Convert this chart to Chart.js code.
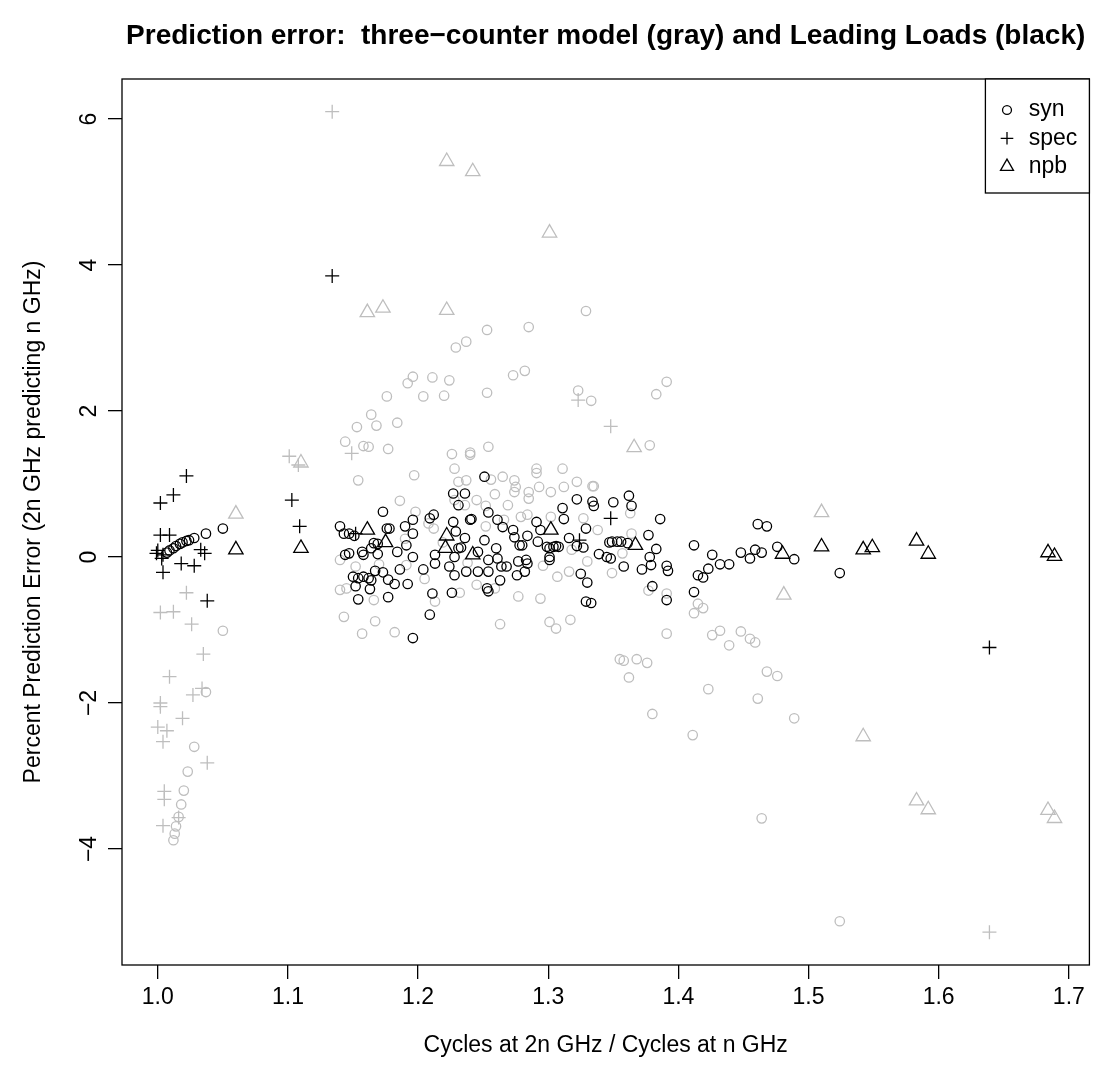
<!DOCTYPE html>
<html><head><meta charset="utf-8">
<script src="https://cdn.jsdelivr.net/npm/chart.js@4.4.1/dist/chart.umd.min.js"></script>
<style>html,body{margin:0;padding:0;background:#fff}#wrap{width:1099px;height:1086px}</style>
</head><body><div id="wrap"><canvas id="c" width="1099" height="1086"></canvas></div>
<script>
const titleText = 'Prediction error:  three\u2212counter model (gray) and Leading Loads (black)';
const xTitle = 'Cycles at 2n GHz / Cycles at n GHz';
const yTitle = 'Percent Prediction Error (2n GHz predicting n GHz)';
const xTicks = [1.0, 1.1, 1.2, 1.3, 1.4, 1.5, 1.6, 1.7];
const yTicks = [-4, -2, 0, 2, 4, 6];
const legendLabels = ['syn', 'spec', 'npb'];

// Leading Loads (black)
const blackSyn = [
[1.007,0.06],[1.009,0.09],[1.012,0.12],[1.014,0.15],[1.017,0.18],[1.019,0.20],[1.022,0.22],[1.024,0.23],[1.028,0.26],[1.037,0.32],[1.050,0.39],
[1.251,1.10],[1.227,0.87],[1.236,0.87],[1.231,0.71],[1.240,0.51],[1.241,0.52],[1.254,0.61],[1.261,0.51],[1.265,0.41],[1.227,0.48],[1.209,0.53],[1.212,0.58],[1.196,0.51],[1.173,0.62],[1.190,0.42],[1.196,0.32],[1.176,0.39],[1.178,0.39],[1.140,0.42],[1.143,0.32],[1.147,0.32],[1.151,0.29],[1.166,0.19],[1.169,0.18],[1.144,0.03],[1.147,0.05],[1.157,0.07],[1.158,0.03],[1.164,0.12],[1.169,0.04],[1.184,0.07],[1.191,0.16],[1.196,0.00],[1.204,-0.17],[1.186,-0.17],[1.167,-0.19],[1.173,-0.21],[1.177,-0.31],[1.182,-0.37],[1.150,-0.27],[1.154,-0.29],[1.158,-0.27],[1.162,-0.29],[1.164,-0.32],[1.152,-0.40],[1.163,-0.44],[1.154,-0.58],[1.177,-0.55],[1.192,-0.37],[1.211,-0.50],[1.226,-0.49],[1.209,-0.79],[1.196,-1.11],[1.213,0.03],[1.213,-0.09],[1.224,-0.13],[1.228,-0.25],[1.237,-0.20],[1.231,0.12],[1.236,0.26],[1.246,0.07],[1.251,0.23],[1.254,-0.04],[1.254,-0.20],[1.246,-0.20],[1.253,-0.43],[1.254,-0.47],[1.261,-0.02],[1.264,-0.13],[1.268,-0.13],[1.263,-0.32],[1.260,0.12],[1.229,0.35],[1.233,0.13],[1.228,0.00],
[1.322,0.79],[1.334,0.76],[1.335,0.70],[1.350,0.75],[1.362,0.84],[1.364,0.70],[1.386,0.52],[1.311,0.67],[1.312,0.52],[1.291,0.48],[1.294,0.37],[1.329,0.39],[1.273,0.37],[1.274,0.27],[1.278,0.16],[1.280,0.16],[1.284,0.29],[1.292,0.21],[1.299,0.14],[1.301,0.12],[1.304,0.14],[1.306,0.15],[1.308,0.14],[1.316,0.26],[1.322,0.15],[1.327,0.13],[1.301,0.00],[1.301,-0.04],[1.347,0.20],[1.349,0.21],[1.353,0.21],[1.356,0.21],[1.361,0.19],[1.339,0.04],[1.345,0.00],[1.348,-0.02],[1.358,-0.13],[1.372,-0.17],[1.377,0.30],[1.383,0.11],[1.378,0.00],[1.379,-0.11],[1.391,-0.12],[1.392,-0.19],[1.380,-0.40],[1.391,-0.59],[1.325,-0.23],[1.330,-0.35],[1.329,-0.61],[1.333,-0.63],[1.277,-0.06],[1.276,-0.25],[1.283,-0.04],[1.284,-0.09],[1.282,-0.20],
[1.412,0.16],[1.412,-0.48],[1.415,-0.25],[1.419,-0.28],[1.423,-0.16],[1.426,0.03],[1.432,-0.10],[1.439,-0.10],[1.448,0.06],[1.455,-0.02],[1.459,0.10],[1.464,0.06],[1.461,0.45],[1.468,0.42],[1.476,0.14],[1.489,-0.03],[1.524,-0.22]
];
const blackSpec = [
[1.022,1.11],[1.012,0.85],[1.002,0.74],[1.002,0.30],[1.009,0.30],[0.999,0.05],[1.004,0.03],[1.003,-0.02],[1.000,0.09],[1.004,-0.21],[1.018,-0.09],[1.028,-0.12],[1.036,0.05],[1.033,0.10],[1.038,-0.60],[1.103,0.78],[1.109,0.42],[1.134,3.85],[1.152,0.32],[1.348,0.53],[1.324,0.23],[1.639,-1.24]
];
const blackNpb = [
[1.060,0.10],[1.110,0.12],[1.161,0.37],[1.175,0.20],[1.222,0.29],[1.221,0.12],[1.242,0.03],[1.302,0.37],[1.367,0.16],[1.480,0.04],[1.510,0.14],[1.542,0.10],[1.549,0.13],[1.583,0.22],[1.592,0.04],[1.684,0.06],[1.689,0.01]
];

// three-counter model (gray)
const graySyn = [
[1.329,3.37],[1.285,3.15],[1.253,3.11],[1.237,2.95],[1.229,2.87],[1.282,2.55],[1.273,2.49],[1.196,2.47],[1.192,2.38],[1.211,2.46],[1.224,2.42],[1.176,2.20],[1.204,2.20],[1.220,2.21],[1.253,2.25],[1.323,2.28],[1.333,2.14],[1.391,2.40],[1.383,2.23],[1.378,1.53],[1.164,1.95],[1.153,1.78],[1.168,1.80],[1.184,1.84],[1.144,1.58],[1.158,1.52],[1.162,1.51],[1.177,1.48],[1.226,1.41],[1.240,1.43],[1.240,1.40],[1.254,1.51],
[1.154,1.05],[1.197,1.12],[1.186,0.77],
[1.050,-1.01],[1.037,-1.85],[1.028,-2.60],[1.023,-2.94],[1.020,-3.20],[1.018,-3.39],[1.016,-3.56],[1.014,-3.69],[1.013,-3.79],[1.012,-3.88],
[1.228,1.21],[1.231,1.03],[1.237,1.05],[1.256,1.06],[1.265,1.10],[1.274,1.05],[1.275,0.96],[1.274,0.89],[1.259,0.86],[1.245,0.78],[1.236,0.71],[1.228,0.78],[1.252,0.70],[1.208,0.46],[1.212,0.39],[1.140,-0.04],[1.152,-0.13],[1.140,-0.45],[1.145,-0.43],[1.166,-0.59],[1.143,-0.82],[1.167,-0.88],[1.157,-1.05],[1.182,-1.03],[1.213,-0.61],[1.232,-0.49],[1.245,-0.38],[1.263,-0.92],[1.259,-0.43],[1.191,-0.11],[1.252,0.42],[1.266,0.51],
[1.198,0.62],[1.190,0.25],[1.219,0.20],[1.238,-0.08],[1.205,-0.30],[1.170,-0.10],[1.296,-0.12],[1.318,0.10],
[1.291,1.21],[1.291,1.15],[1.311,1.21],[1.293,0.96],[1.285,0.89],[1.285,0.80],[1.302,0.89],[1.312,0.96],[1.322,1.03],[1.334,0.97],[1.335,0.97],[1.269,0.71],[1.302,0.55],[1.279,0.55],[1.284,0.58],[1.327,0.53],[1.363,0.60],[1.338,0.37],[1.364,0.32],[1.357,0.05],[1.330,-0.06],[1.316,-0.20],[1.307,-0.27],[1.349,-0.22],[1.277,-0.54],[1.294,-0.57],[1.301,-0.89],[1.306,-0.98],[1.317,-0.86],[1.377,-0.46],[1.391,-0.50],[1.391,-1.05],
[1.355,-1.40],[1.358,-1.42],[1.362,-1.65],[1.368,-1.40],[1.376,-1.45],[1.380,-2.15],
[1.415,-0.64],[1.419,-0.70],[1.412,-0.77],[1.426,-1.07],[1.432,-1.01],[1.439,-1.21],[1.448,-1.02],[1.455,-1.12],[1.459,-1.17],[1.468,-1.57],[1.476,-1.63],[1.423,-1.81],[1.461,-1.94],[1.489,-2.21],[1.411,-2.44],[1.464,-3.58],[1.524,-4.99]
];
const graySpec = [
[1.134,6.10],[1.323,2.15],[1.348,1.79],[1.149,1.42],[1.101,1.38],[1.108,1.26],[1.022,-0.49],[1.002,-0.76],[1.012,-0.75],[1.026,-0.92],[1.035,-1.33],[1.009,-1.64],[1.027,-1.89],[1.034,-1.80],[1.002,-2.00],[1.002,-2.05],[1.019,-2.21],[1.000,-2.33],[1.007,-2.38],[1.004,-2.53],[1.038,-2.82],[1.005,-3.21],[1.005,-3.32],[1.016,-3.57],[1.004,-3.68],[1.639,-5.14]
];
const grayNpb = [
[1.222,5.42],[1.242,5.28],[1.301,4.44],[1.161,3.35],[1.173,3.41],[1.222,3.38],[1.366,1.50],[1.110,1.29],[1.060,0.59],[1.510,0.61],[1.481,-0.52],[1.542,-2.46],[1.583,-3.34],[1.592,-3.46],[1.684,-3.47],[1.689,-3.58]
];

const FONT = "'Liberation Sans', Arial, Helvetica, sans-serif";
const GRAY = '#BEBEBE';
const BLACK = '#000000';
const STYLE = { circle: 4.7, cross: 7, triangle: 8.3 };
const LW = 1.3;

function ds(label, arr, color, style) {
  return {
    label,
    data: arr.map(([x, y]) => ({ x, y })),
    showLine: false,
    pointStyle: style,
    pointRadius: STYLE[style],
    pointHoverRadius: STYLE[style],
    pointBorderWidth: LW,
    pointHoverBorderWidth: LW,
    borderColor: color,
    pointBorderColor: color,
    backgroundColor: 'rgba(0,0,0,0)',
    pointBackgroundColor: 'rgba(0,0,0,0)'
  };
}
const fmtY = v => (v < 0 ? '\u2212' + Math.abs(v) : String(v));

const rPlot = {
  id: 'rPlot',
  afterDraw(chart) {
    const { ctx, chartArea: a } = chart;
    const y = chart.scales.y;
    ctx.save();
    ctx.strokeStyle = BLACK; ctx.lineWidth = LW;
    ctx.strokeRect(a.left, a.top, a.right - a.left, a.bottom - a.top);
    ctx.fillStyle = BLACK;
    ctx.font = 'bold 28px ' + FONT;
    ctx.textAlign = 'center'; ctx.textBaseline = 'alphabetic';
    ctx.fillText(titleText, (a.left + a.right) / 2, 44);
    ctx.font = '23px ' + FONT;
    y.ticks.forEach(t => {
      const py = y.getPixelForValue(t.value);
      ctx.save(); ctx.translate(90, py); ctx.rotate(-Math.PI / 2);
      ctx.textAlign = 'center'; ctx.textBaseline = 'middle';
      ctx.fillText(fmtY(t.value), 0, 0);
      ctx.restore();
    });
    // legend
    const lw = 104, lh = 114, lx = a.right - lw, ly = a.top;
    ctx.fillStyle = '#fff';
    ctx.fillRect(lx, ly, lw, lh);
    ctx.strokeRect(lx, ly, lw, lh);
    const styles = ['circle', 'cross', 'triangle'];
    legendLabels.forEach((lab, i) => {
      const cy = ly + 31 + i * 28.3;
      ctx.strokeStyle = BLACK; ctx.lineWidth = LW; ctx.fillStyle = 'rgba(0,0,0,0)';
      Chart.helpers.drawPoint(ctx, { pointStyle: styles[i], radius: STYLE[styles[i]] * (i === 0 ? 0.95 : 0.9), borderWidth: LW, rotation: 0 }, lx + 21.6, cy);
      ctx.fillStyle = BLACK; ctx.textAlign = 'left'; ctx.textBaseline = 'middle';
      ctx.font = '23px ' + FONT;
      ctx.fillText(lab, lx + 43.3, cy);
    });
    ctx.restore();
  }
};

new Chart(document.getElementById('c'), {
  type: 'scatter',
  data: {
    datasets: [
      ds('syn', blackSyn, BLACK, 'circle'),
      ds('spec', blackSpec, BLACK, 'cross'),
      ds('npb', blackNpb, BLACK, 'triangle'),
      ds('syn (gray)', graySyn, GRAY, 'circle'),
      ds('spec (gray)', graySpec, GRAY, 'cross'),
      ds('npb (gray)', grayNpb, GRAY, 'triangle')
    ]
  },
  options: {
    responsive: false,
    devicePixelRatio: 1,
    animation: false,
    events: [],
    layout: { padding: { top: 79, right: 4, left: 0, bottom: 0 } },
    plugins: { legend: { display: false }, tooltip: { enabled: false }, title: { display: false } },
    scales: {
      x: {
        type: 'linear', min: 0.97250, max: 1.71581,
        afterBuildTicks: s => { s.ticks = xTicks.map(v => ({ value: v })); },
        afterFit: s => { s.height = 121; },
        ticks: { callback: v => Number(v).toFixed(1), font: { size: 23, family: FONT }, color: BLACK, padding: 5, maxRotation: 0, autoSkip: false },
        grid: { display: true, drawOnChartArea: false, drawTicks: true, tickLength: 14, color: BLACK, lineWidth: LW },
        border: { display: false },
        title: { display: true, text: xTitle, font: { size: 23, family: FONT }, color: BLACK, padding: { top: 0, bottom: 27 } }
      },
      y: {
        type: 'linear', min: -5.589, max: 6.548,
        afterBuildTicks: s => { s.ticks = yTicks.map(v => ({ value: v })); },
        afterFit: s => { s.width = 122; },
        ticks: { display: false },
        grid: { display: true, drawOnChartArea: false, drawTicks: true, tickLength: 14, color: BLACK, lineWidth: LW },
        border: { display: false },
        title: { display: true, text: yTitle, font: { size: 23, family: FONT }, color: BLACK, padding: { top: 20, bottom: 0 } }
      }
    }
  },
  plugins: [rPlot]
});
</script>
</body></html>
